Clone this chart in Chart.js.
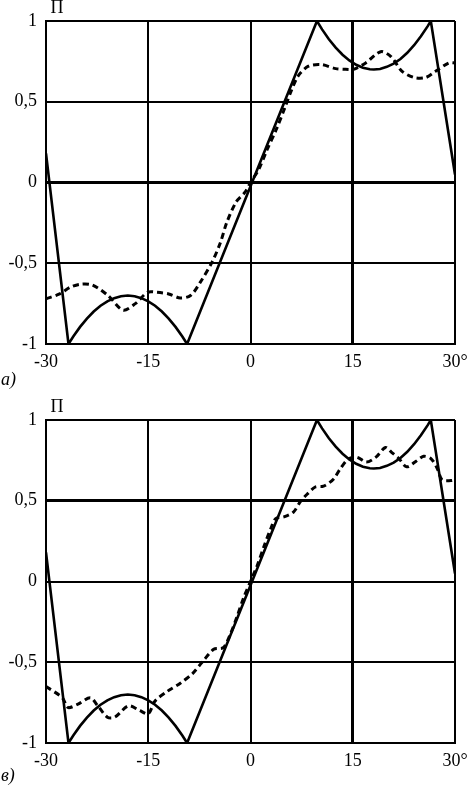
<!DOCTYPE html>
<html>
<head>
<meta charset="utf-8">
<script src="https://cdn.jsdelivr.net/npm/chart.js@4/dist/chart.umd.min.js"></script>
<style>
  body { margin: 0; background: #fff; }
  .box { position: relative; width: 468px; }
</style>
</head>
<body>
<div class="box" style="height:390px"><canvas id="chartA"></canvas></div>
<div class="box" style="height:397px"><canvas id="chartB"></canvas></div>
<script>
// axis ticks
const xTicks = [-30, -15, 0, 15, 30];
const yTicks = [-1, -0.5, 0, 0.5, 1];

// solid curve (same on both panels)
const solidX = [-30, -26.7, -26, -25, -24, -23, -22, -21, -20, -19, -18, -17, -16, -15, -14, -13, -12, -11, -10, -9.3,
  9.75, 10.5, 11.5, 12.5, 13.5, 14.5, 15.5, 16.5, 17.5, 18.1, 19, 20, 21, 22, 23, 24, 25, 26, 26.45, 30];
const solidY = [0.18, -1, -0.954, -0.894, -0.843, -0.799, -0.763, -0.736, -0.716, -0.704, -0.70, -0.704, -0.716, -0.736, -0.763, -0.799, -0.843, -0.894, -0.954, -1,
  1, 0.948, 0.887, 0.835, 0.791, 0.756, 0.729, 0.711, 0.701, 0.70, 0.703, 0.716, 0.736, 0.765, 0.803, 0.85, 0.905, 0.968, 1, 0.05];

// dashed curve, panel а)
const dashAX = [-30, -28, -26.5, -25, -23.2, -20.9, -18.7, -16.9, -15.1, -13.7, -12, -10.3, -8.8, -7.4, -5.6, -4.4, -3.5, -2.1, -0.8, 0,
  1.2, 2.4, 3.8, 5.1, 6, 7, 8.5, 10.4, 12.5, 14.4, 15.1, 16.9, 19.1, 20.6, 22.2, 24, 25.7, 27.2, 29.1, 30];
const dashAY = [-0.72, -0.69, -0.65, -0.63, -0.635, -0.70, -0.79, -0.75, -0.68, -0.68, -0.69, -0.715, -0.70, -0.62, -0.49, -0.37, -0.25, -0.12, -0.06, 0,
  0.08, 0.2, 0.33, 0.47, 0.57, 0.66, 0.72, 0.73, 0.705, 0.70, 0.70, 0.74, 0.81, 0.78, 0.69, 0.65, 0.65, 0.69, 0.74, 0.74];

// dashed curve, panel в)
const dashBX = [-30, -27.6, -26.8, -25.3, -23.5, -22.4, -21, -19.9, -17.9, -16.2, -15, -14, -12.2, -10.3, -8.5, -7.1, -5.4, -4, -3, -2, -1, 0,
  1, 2, 3, 3.7, 4.9, 6.3, 7.4, 8.3, 9.5, 10.7, 12.2, 13.2, 14.4, 15.6, 17, 18.4, 19.8, 20.7, 21.8, 22.9, 24.3, 25.4, 26.5, 27.4, 28.1, 29.4, 30];
const dashBY = [-0.65, -0.72, -0.78, -0.76, -0.72, -0.77, -0.84, -0.84, -0.77, -0.80, -0.82, -0.74, -0.68, -0.63, -0.57, -0.50, -0.42, -0.41, -0.33, -0.22, -0.1, 0,
  0.1, 0.22, 0.33, 0.39, 0.40, 0.43, 0.5, 0.54, 0.585, 0.59, 0.635, 0.70, 0.76, 0.77, 0.74, 0.77, 0.83, 0.80, 0.76, 0.71, 0.745, 0.775, 0.76, 0.70, 0.63, 0.625, 0.63];

const pts = (xs, ys) => xs.map((x, i) => ({ x: x, y: ys[i] }));
const serif = "'Liberation Serif', 'DejaVu Serif', serif";

function makeChart(id, dashX, dashY, letter, padTop, axisH, thickY, letterY) {
  const labels = {
    id: 'labels' + id,
    afterDraw(chart) {
      const c = chart.ctx;
      c.save();
      c.fillStyle = '#000';
      c.textAlign = 'center';
      c.textBaseline = 'middle';
      c.font = '18px ' + serif;
      c.fillText('П', 57, padTop - 13);
      c.textAlign = 'left';
      c.font = 'italic 18px ' + serif;
      c.fillText(letter, 1, letterY);
      c.restore();
    }
  };
  new Chart(document.getElementById(id), {
    type: 'line',
    data: {
      datasets: [{
        data: pts(dashX, dashY),
        borderColor: '#000',
        borderWidth: 3,
        borderDash: [6, 4],
        pointRadius: 0,
        tension: 0.3
      }, {
        data: pts(solidX, solidY),
        borderColor: '#000',
        borderWidth: 2.6,
        pointRadius: 0,
        tension: 0
      }]
    },
    options: {
      animation: false,
      responsive: true,
      maintainAspectRatio: false,
      layout: { padding: { top: padTop, right: 13, left: 0, bottom: 0 } },
      plugins: { legend: { display: false }, tooltip: { enabled: false } },
      scales: {
        x: {
          type: 'linear', min: -30, max: 30,
          afterBuildTicks: s => { s.ticks = xTicks.map(v => ({ value: v })); },
          afterFit: s => { s.height = axisH; s.paddingRight = 0; s.paddingLeft = 0; },
          border: { display: true, color: '#000', width: 2 },
          grid: {
            color: '#000', drawTicks: false,
            lineWidth: ctx => (ctx.tick && ctx.tick.value === 15 ? 3 : 2)
          },
          ticks: {
            color: '#000', padding: 7, maxRotation: 0, autoSkip: false,
            font: { family: serif, size: 18 },
            callback: v => (v === 30 ? '30°' : String(v))
          }
        },
        y: {
          min: -1, max: 1,
          afterBuildTicks: s => { s.ticks = yTicks.map(v => ({ value: v })); },
          afterFit: s => { s.width = 46; s.paddingTop = 0; s.paddingBottom = 0; },
          border: { display: true, color: '#000', width: 2 },
          grid: {
            color: '#000', drawTicks: false,
            lineWidth: ctx => (ctx.tick && ctx.tick.value === thickY ? 3 : 2)
          },
          ticks: {
            color: '#000', padding: 9,
            font: { family: serif, size: 18 },
            callback: v => String(v).replace('.', ',')
          }
        }
      }
    },
    plugins: [labels]
  });
}

makeChart('chartA', dashAX, dashAY, 'а)', 21, 46, 0, 380);
makeChart('chartB', dashBX, dashBY, 'в)', 30, 44, 0.5, 386);
</script>
</body>
</html>
